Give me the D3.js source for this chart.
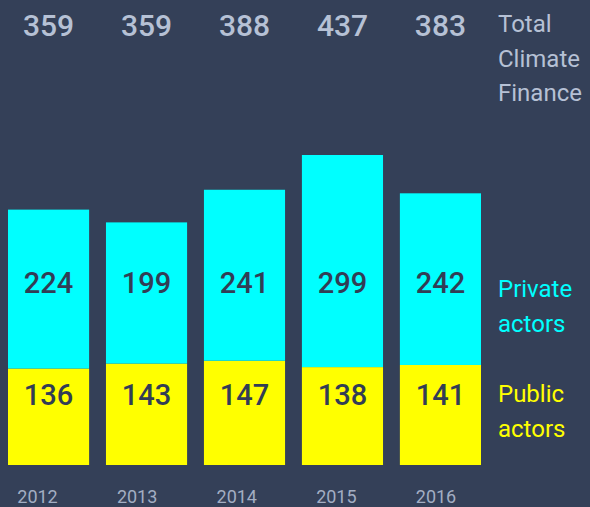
<!DOCTYPE html>
<html>
<head>
<meta charset="utf-8">
<script src="https://cdn.jsdelivr.net/npm/d3@7"></script>
<style>
html,body{margin:0;padding:0;background:#344058;}
svg{display:block;}
</style>
</head>
<body>
<svg id="chart" width="590" height="507"></svg>
<script>
const years = ["2012", "2013", "2014", "2015", "2016"];
const publicActors = [136, 143, 147, 138, 141];
const privateActors = [224, 199, 241, 299, 242];
const totals = [359, 359, 388, 437, 383];
const legendTotal = ["Total", "Climate", "Finance"];
const legendPrivate = ["Private", "actors"];
const legendPublic = ["Public", "actors"];

const W = 590, H = 507;
const svg = d3.select("#chart");
const font = "Roboto, 'Noto Sans', sans-serif";

const x = d3.scaleBand().domain(years).range([8, 481]).paddingInner(0.172).paddingOuter(0);
const y = d3.scaleLinear().domain([0, 437]).range([465, 155]);
const xYear = d3.scalePoint().domain(years).range([37.5, 436]);

const rows = years.map((yr, i) => ({year: yr, pub: publicActors[i], priv: privateActors[i], total: totals[i]}));

// public (yellow)
svg.append("g").selectAll("rect").data(rows).join("rect")
  .attr("x", d => x(d.year)).attr("width", x.bandwidth())
  .attr("y", d => y(d.pub)).attr("height", d => y(0) - y(d.pub))
  .attr("fill", "#ffff00");
// private (cyan)
svg.append("g").selectAll("rect").data(rows).join("rect")
  .attr("x", d => x(d.year)).attr("width", x.bandwidth())
  .attr("y", d => y(d.pub + d.priv)).attr("height", d => y(d.pub) - y(d.pub + d.priv))
  .attr("fill", "#00ffff");

const cx = d => x(d.year) + x.bandwidth() / 2;

// totals
svg.append("g").selectAll("text").data(rows).join("text")
  .attr("x", cx).attr("y", 36).attr("text-anchor", "middle")
  .attr("font-family", font).attr("font-weight", 500).attr("font-size", 30)
  .attr("fill", "#b6c1d5").text(d => d.total);

// private labels
svg.append("g").selectAll("text").data(rows).join("text")
  .attr("x", cx).attr("y", 293).attr("text-anchor", "middle")
  .attr("font-family", font).attr("font-weight", 500).attr("font-size", 29)
  .attr("fill", "#323d55").text(d => d.priv);

// public labels
svg.append("g").selectAll("text").data(rows).join("text")
  .attr("x", cx).attr("y", 405).attr("text-anchor", "middle")
  .attr("font-family", font).attr("font-weight", 500).attr("font-size", 29)
  .attr("fill", "#323d55").text(d => d.pub);

// year labels
svg.append("g").selectAll("text").data(rows).join("text")
  .attr("x", d => xYear(d.year)).attr("y", 503).attr("text-anchor", "middle")
  .attr("font-family", font).attr("font-size", 18)
  .attr("fill", "#a3aec3").text(d => d.year);

// legends
function legend(lines, y0, color) {
  svg.append("g").selectAll("text").data(lines).join("text")
    .attr("x", 498).attr("y", (d, i) => y0 + i * 34.5)
    .attr("font-family", font).attr("font-size", 24)
    .attr("fill", color).text(d => d);
}
legend(legendTotal, 32, "#b6c1d5");
legend(legendPrivate, 297, "#00ffff");
legend(legendPublic, 402, "#ffff00");
</script>
</body>
</html>
